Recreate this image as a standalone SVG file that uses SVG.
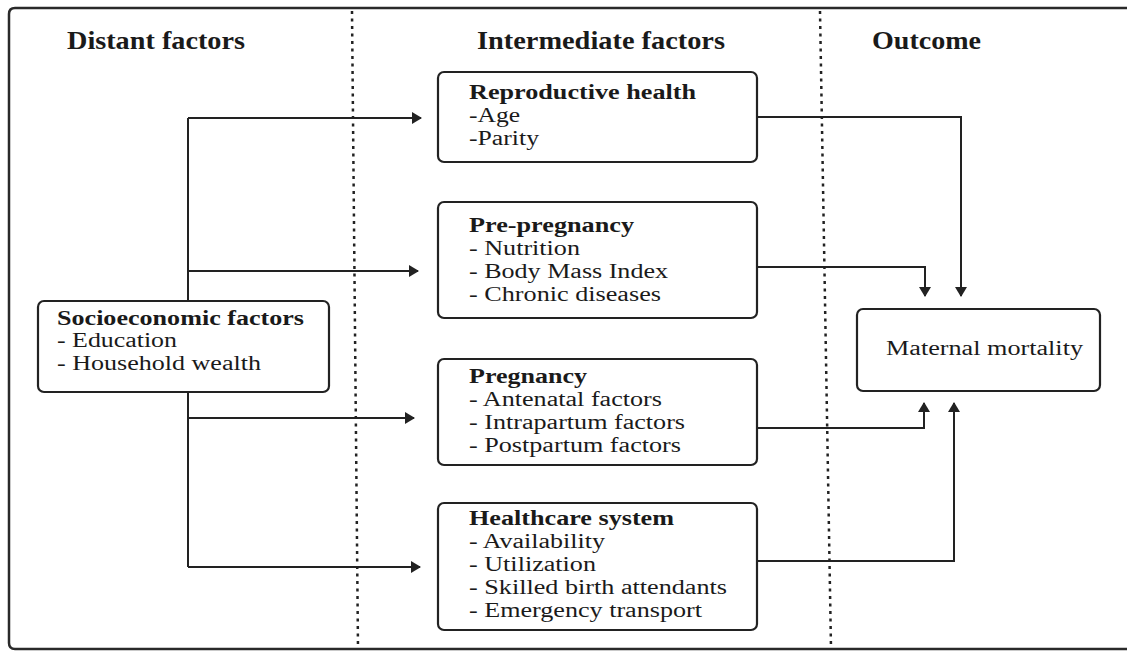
<svg xmlns="http://www.w3.org/2000/svg" width="1127" height="651" viewBox="0 0 1127 651">
<style>
  .frame{fill:none;stroke:#2a2a2a;stroke-width:2.5}
  .div{fill:none;stroke:#222;stroke-width:2.5;stroke-dasharray:3 4.5}
  .box{fill:#fff;stroke:#222;stroke-width:2.2}
  .conn{fill:none;stroke:#222;stroke-width:2}
  text{font-family:"Liberation Serif","Times New Roman",serif;fill:#1a1a1a}
  .hdr{font-size:25px;font-weight:bold}
  .ttl{font-size:20px;font-weight:bold}
  .bd{font-size:20px}
</style>
<defs>
  <marker id="ah" viewBox="0 0 10 12" refX="9" refY="6" markerWidth="10" markerHeight="12" markerUnits="userSpaceOnUse" orient="auto">
    <path d="M0,0 L10,6 L0,12 Z" fill="#222"/>
  </marker>
</defs>
<rect width="1127" height="651" fill="#fff"/>
<path class="frame" d="M1135,8 H15 Q9,8 9,14 V643 Q9,649 15,649 H1135"/>
<line class="div" x1="352" y1="11" x2="358" y2="648"/>
<line class="div" x1="820" y1="11" x2="831" y2="648"/>
<g id="headers">
  <text class="hdr" x="67" y="49" textLength="178" lengthAdjust="spacingAndGlyphs">Distant factors</text>
  <text class="hdr" x="477" y="49" textLength="248" lengthAdjust="spacingAndGlyphs">Intermediate factors</text>
  <text class="hdr" x="872" y="49" textLength="109" lengthAdjust="spacingAndGlyphs">Outcome</text>
</g>
<g id="connectors">
  <path class="conn" d="M188,118 V567"/>
  <path class="conn" d="M188,118 H421" marker-end="url(#ah)"/>
  <path class="conn" d="M188,271 H418" marker-end="url(#ah)"/>
  <path class="conn" d="M188,418 H414" marker-end="url(#ah)"/>
  <path class="conn" d="M188,567 H420" marker-end="url(#ah)"/>
  <path class="conn" d="M757,117 H961 V296" marker-end="url(#ah)"/>
  <path class="conn" d="M757,267 H925 V296" marker-end="url(#ah)"/>
  <path class="conn" d="M757,428 H924 V403" marker-end="url(#ah)"/>
  <path class="conn" d="M757,561 H954 V403" marker-end="url(#ah)"/>
</g>
<g id="socioeconomic">
  <rect class="box" x="38" y="301" width="291" height="91" rx="6"/>
  <text class="ttl" x="57" y="325" textLength="247" lengthAdjust="spacingAndGlyphs">Socioeconomic factors</text>
  <text class="bd" x="57" y="347" textLength="120" lengthAdjust="spacingAndGlyphs">- Education</text>
  <text class="bd" x="57" y="370" textLength="204" lengthAdjust="spacingAndGlyphs">- Household wealth</text>
</g>
<g id="reproductive">
  <rect class="box" x="438" y="72" width="319" height="90" rx="6"/>
  <text class="ttl" x="469" y="99" textLength="227" lengthAdjust="spacingAndGlyphs">Reproductive health</text>
  <text class="bd" x="469" y="122" textLength="51" lengthAdjust="spacingAndGlyphs">-Age</text>
  <text class="bd" x="469" y="145" textLength="70" lengthAdjust="spacingAndGlyphs">-Parity</text>
</g>
<g id="prepregnancy">
  <rect class="box" x="438" y="202" width="319" height="116" rx="6"/>
  <text class="ttl" x="469" y="232" textLength="165" lengthAdjust="spacingAndGlyphs">Pre-pregnancy</text>
  <text class="bd" x="469" y="255" textLength="111" lengthAdjust="spacingAndGlyphs">- Nutrition</text>
  <text class="bd" x="469" y="278" textLength="199" lengthAdjust="spacingAndGlyphs">- Body Mass Index</text>
  <text class="bd" x="469" y="301" textLength="192" lengthAdjust="spacingAndGlyphs">- Chronic diseases</text>
</g>
<g id="pregnancy">
  <rect class="box" x="438" y="359" width="319" height="106" rx="6"/>
  <text class="ttl" x="469" y="383" textLength="118" lengthAdjust="spacingAndGlyphs">Pregnancy</text>
  <text class="bd" x="469" y="406" textLength="193" lengthAdjust="spacingAndGlyphs">- Antenatal factors</text>
  <text class="bd" x="469" y="429" textLength="216" lengthAdjust="spacingAndGlyphs">- Intrapartum factors</text>
  <text class="bd" x="469" y="452" textLength="212" lengthAdjust="spacingAndGlyphs">- Postpartum factors</text>
</g>
<g id="healthcare">
  <rect class="box" x="438" y="503" width="319" height="127" rx="6"/>
  <text class="ttl" x="469" y="525" textLength="205" lengthAdjust="spacingAndGlyphs">Healthcare system</text>
  <text class="bd" x="469" y="548" textLength="136" lengthAdjust="spacingAndGlyphs">- Availability</text>
  <text class="bd" x="469" y="571" textLength="127" lengthAdjust="spacingAndGlyphs">- Utilization</text>
  <text class="bd" x="469" y="594" textLength="258" lengthAdjust="spacingAndGlyphs">- Skilled birth attendants</text>
  <text class="bd" x="469" y="617" textLength="233" lengthAdjust="spacingAndGlyphs">- Emergency transport</text>
</g>
<g id="maternal">
  <rect class="box" x="857" y="309" width="243" height="82" rx="6"/>
  <text class="bd" x="886" y="355" textLength="197" lengthAdjust="spacingAndGlyphs">Maternal mortality</text>
</g>
</svg>
